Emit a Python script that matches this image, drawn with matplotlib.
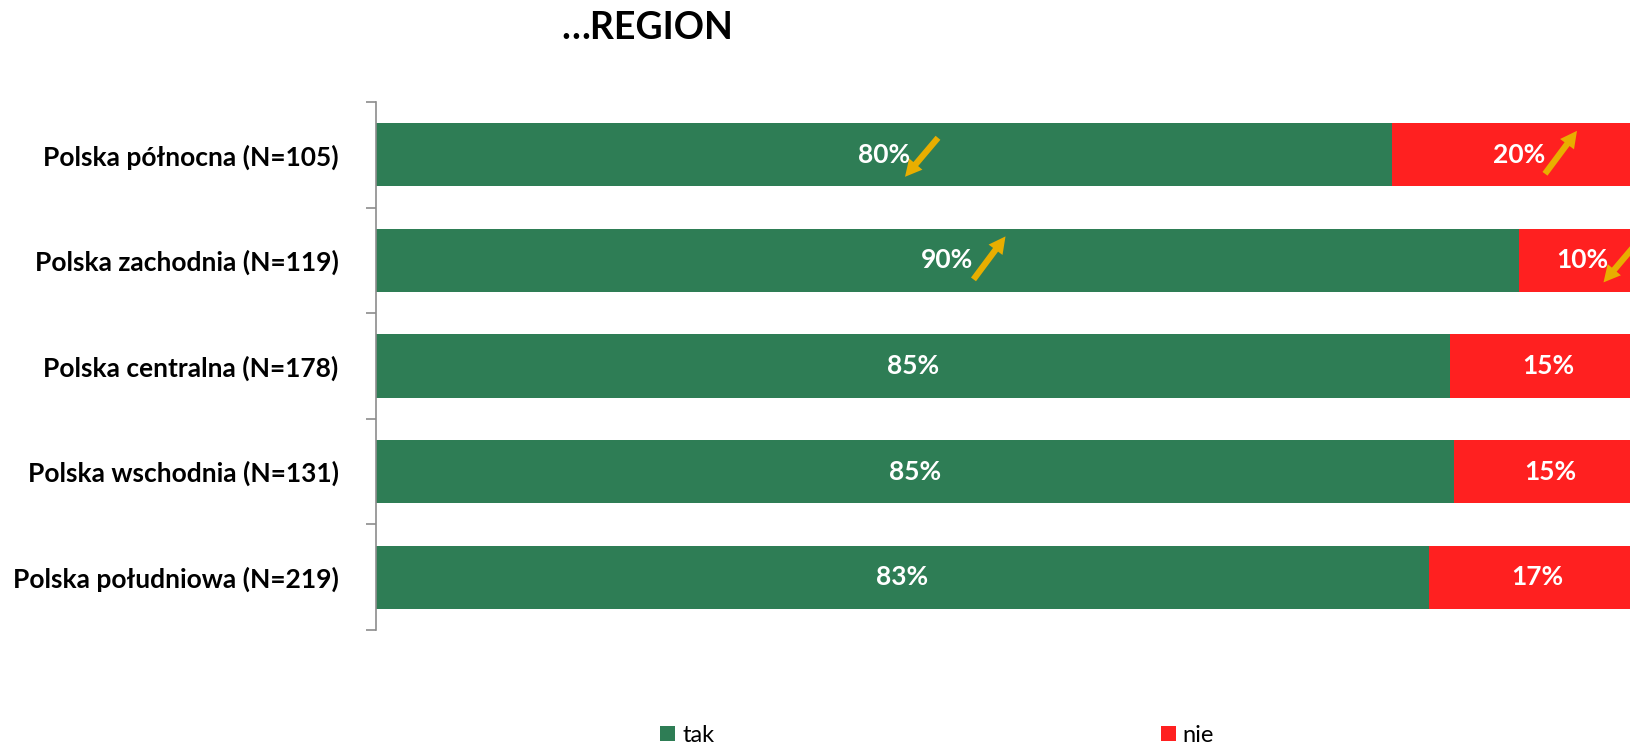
import matplotlib.pyplot as plt
import matplotlib.transforms as mtransforms

# dane
regions = ['Polska północna (N=105)', 'Polska zachodnia (N=119)',
           'Polska centralna (N=178)', 'Polska wschodnia (N=131)',
           'Polska południowa (N=219)']
tak = [80.0, 90.0, 84.6, 84.9, 82.9]
nie = [100 - v for v in tak]
# strzalki trendu przy etykietach
trend_tak = ['down', 'up', '', '', '']
trend_nie = ['up', 'down', '', '', '']

green = '#2E7D55'
red = '#FF2020'
arrow_col = '#E8AE00'

plt.rcParams['font.family'] = ['Lato', 'DejaVu Sans']

fig = plt.figure(figsize=(16.3, 7.46), dpi=100)
ax = fig.add_axes([376 / 1630, 116 / 746, 1270 / 1630, 528 / 746])

y = list(range(len(regions)))
ax.barh(y, tak, height=0.6, color=green, label='tak')
ax.barh(y, nie, left=tak, height=0.6, color=red, label='nie')

ax.set_xlim(0, 100)
ax.set_ylim(len(regions) - 0.5, -0.5)
ax.set_yticks(y)
ax.set_yticklabels(regions, fontsize=19, fontweight='bold')
ax.tick_params(axis='y', which='major', length=0, pad=27)
ax.set_yticks([i - 0.5 for i in range(len(regions) + 1)], minor=True)
ax.tick_params(axis='y', which='minor', length=7, width=1.2, color='#8c8c8c')
ax.set_xticks([])
for s in ['top', 'right', 'bottom']:
    ax.spines[s].set_visible(False)
ax.spines['left'].set_color('#8c8c8c')
ax.spines['left'].set_linewidth(1.2)


def arrow(x, yy, kind):
    if kind == 'up':
        tail, head = (26, 19), (58, -24)
    else:
        tail, head = (54, -17), (21, 22)
    t_tail = ax.transData + mtransforms.ScaledTranslation(tail[0] / 100, -tail[1] / 100, fig.dpi_scale_trans)
    t_head = ax.transData + mtransforms.ScaledTranslation(head[0] / 100, -head[1] / 100, fig.dpi_scale_trans)
    ax.annotate('', xy=(x, yy), xycoords=t_head, xytext=(x, yy), textcoords=t_tail,
                arrowprops=dict(arrowstyle='simple,head_length=1.2,head_width=1.25,tail_width=0.45',
                                mutation_scale=10, color=arrow_col, shrinkA=0, shrinkB=0,
                                lw=0),
                annotation_clip=False)


for i in y:
    xg = tak[i] / 2
    xr = tak[i] + nie[i] / 2
    ax.text(xg, i, f'{tak[i]:.0f}%', ha='center', va='center', color='white',
            fontsize=19, fontweight='bold')
    ax.text(xr, i, f'{nie[i]:.0f}%', ha='center', va='center', color='white',
            fontsize=19, fontweight='bold')
    if trend_tak[i]:
        arrow(xg, i, trend_tak[i])
    if trend_nie[i]:
        arrow(xr, i, trend_nie[i])

fig.text(647 / 1630, 1 - 28 / 746, '…REGION', ha='center', va='center',
         fontsize=27, fontweight='bold')

fig.legend(loc='center left', bbox_to_anchor=(660 / 1630, 11 / 746), ncol=2,
           frameon=False, fontsize=17, handlelength=0.64, handleheight=0.6,
           handletextpad=0.3, columnspacing=18.9, borderpad=0, borderaxespad=0)

fig.savefig('out.png', dpi=100)
